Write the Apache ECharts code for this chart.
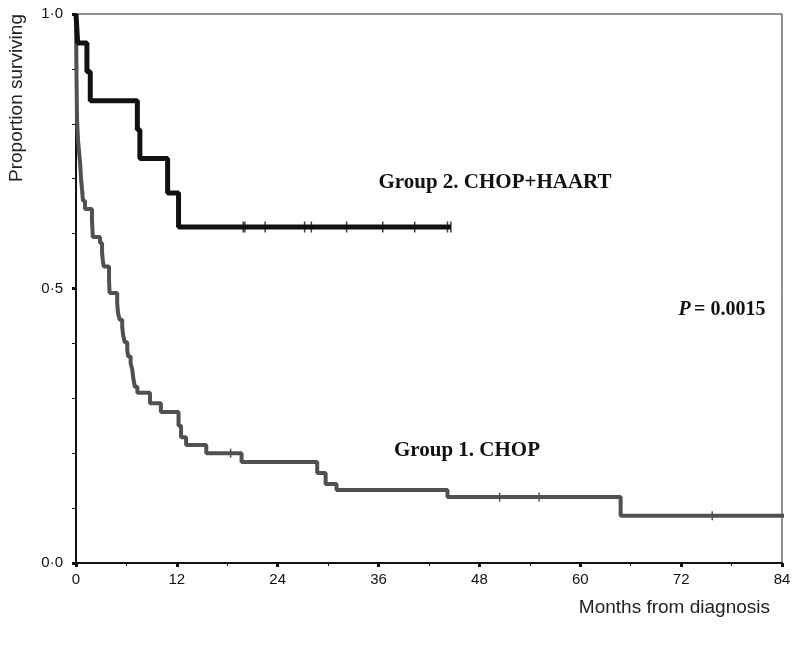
<!DOCTYPE html>
<html>
<head>
<meta charset="utf-8">
<script src="https://cdn.jsdelivr.net/npm/echarts@6/dist/echarts.min.js"></script>
<style>
  html, body { margin: 0; padding: 0; background: #fff; }
  #chart { width: 797px; height: 646px; }
</style>
</head>
<body>
<div id="chart"></div>
<script>
// Kaplan-Meier curves, values
var xTicks = [0, 12, 24, 36, 48, 60, 72, 84];
var yTickLabels = { 0: '0·0', 0.5: '0·5', 1: '1·0' };

// group 1: CHOP
var g1Time = [0, 0.05, 0.12, 0.24, 0.36, 0.48, 0.6, 0.72, 0.83, 1.07, 1.9, 1.95, 2.0, 2.86, 3.1, 3.2, 3.3,
  3.93, 4.0, 4.9, 5.0, 5.2, 5.5, 5.6, 5.8, 6.1, 6.2, 6.5, 6.7, 6.8, 7.0, 7.3, 8.8, 10.1, 12.2, 12.5,
  13.1, 15.5, 19.7, 28.7, 29.7, 31.0, 44.2, 64.8, 85.9];
var g1Surv = [1.0, 0.90, 0.81, 0.77, 0.75, 0.73, 0.70, 0.68, 0.66, 0.645, 0.625, 0.61, 0.594, 0.583, 0.565, 0.55, 0.54,
  0.515, 0.492, 0.474, 0.455, 0.443, 0.43, 0.416, 0.402, 0.388, 0.376, 0.364, 0.352, 0.338, 0.321, 0.31, 0.291, 0.275, 0.25, 0.229,
  0.215, 0.2, 0.184, 0.164, 0.144, 0.133, 0.12, 0.086, 0.086];
var g1Censor = [18.4, 50.4, 55.1, 75.7];

// group 2: CHOP+HAART
var g2Time = [0, 0.2, 1.3, 1.7, 7.3, 7.6, 10.9, 12.2, 44.6];
var g2Surv = [1.0, 0.947, 0.895, 0.842, 0.789, 0.737, 0.674, 0.612, 0.612];
var g2Censor = [19.9, 20.1, 22.5, 27.2, 28.0, 32.2, 36.5, 40.3, 44.2, 44.6];

// survival value at time t (step function)
function survAt(times, surv, t) {
  var s = surv[0];
  for (var i = 0; i < times.length; i++) {
    if (times[i] <= t) s = surv[i];
  }
  return s;
}
function pairs(a, b) {
  return a.map(function (v, i) { return [v, b[i]]; });
}
function censorPts(times, surv, cens) {
  return cens.map(function (t) { return [t, survAt(times, surv, t)]; });
}

var chart = echarts.init(document.getElementById('chart'));
var option = {
  animation: false,
  backgroundColor: '#fff',
  grid: {
    left: 76, top: 14, right: 15, bottom: 83,
    show: true, borderColor: '#222', borderWidth: 1, backgroundColor: 'transparent'
  },
  xAxis: {
    type: 'value', min: 0, max: 84, interval: 12,
    axisLine: { lineStyle: { color: '#111', width: 2 } },
    axisTick: { show: true, length: 4, lineStyle: { color: '#111', width: 3 } },
    minorTick: { show: true, splitNumber: 2, length: 3, lineStyle: { color: '#111', width: 1 } },
    splitLine: { show: false },
    axisLabel: { color: '#111', fontFamily: 'Liberation Sans', fontSize: 15, margin: 9 }
  },
  yAxis: {
    type: 'value', min: 0, max: 1, interval: 0.5,
    axisLine: { lineStyle: { color: '#111', width: 2 } },
    axisTick: { show: true, length: 4, lineStyle: { color: '#111', width: 3 } },
    minorTick: { show: true, splitNumber: 5, length: 4, lineStyle: { color: '#111', width: 1 } },
    splitLine: { show: false },
    axisLabel: {
      color: '#111', fontFamily: 'Liberation Sans', fontSize: 15, margin: 13,
      formatter: function (v) { return yTickLabels[v] || ''; }
    }
  },
  series: [
    {
      name: 'Group 1. CHOP', type: 'line', step: 'end', clip: false,
      data: pairs(g1Time, g1Surv), showSymbol: false,
      lineStyle: { color: '#505050', width: 4 }
    },
    {
      name: 'Group 2. CHOP+HAART', type: 'line', step: 'end', clip: false,
      data: pairs(g2Time, g2Surv), showSymbol: false,
      lineStyle: { color: '#111', width: 5 }
    },
    {
      type: 'scatter', data: censorPts(g1Time, g1Surv, g1Censor),
      symbol: 'rect', symbolSize: [1.5, 9], itemStyle: { color: '#222' }
    },
    {
      type: 'scatter', data: censorPts(g2Time, g2Surv, g2Censor),
      symbol: 'rect', symbolSize: [1.5, 11], itemStyle: { color: '#111' }
    }
  ],
  graphic: [
    {
      type: 'text', x: 17, y: 98, rotation: Math.PI / 2, originX: 0, originY: 0,
      style: { text: 'Proportion surviving', fill: '#222', font: '19px "Liberation Sans"',
        align: 'center', verticalAlign: 'middle' }
    },
    {
      type: 'text', x: 770, y: 608,
      style: { text: 'Months from diagnosis', fill: '#222', font: '19px "Liberation Sans"',
        align: 'right', verticalAlign: 'middle' }
    },
    {
      type: 'text', x: 495, y: 183,
      style: { text: 'Group 2. CHOP+HAART', fill: '#111', font: 'bold 21px "Liberation Serif"',
        align: 'center', verticalAlign: 'middle' }
    },
    {
      type: 'text', x: 467, y: 451,
      style: { text: 'Group 1. CHOP', fill: '#111', font: 'bold 21px "Liberation Serif"',
        align: 'center', verticalAlign: 'middle' }
    },
    {
      type: 'text', x: 722, y: 310,
      style: {
        text: '{i|P} {n|= 0.0015}', align: 'center', verticalAlign: 'middle',
        rich: {
          i: { fill: '#111', font: 'italic bold 20px "Liberation Serif"' },
          n: { fill: '#111', font: 'bold 20px "Liberation Serif"' }
        }
      }
    }
  ]
};
chart.setOption(option);
</script>
</body>
</html>
